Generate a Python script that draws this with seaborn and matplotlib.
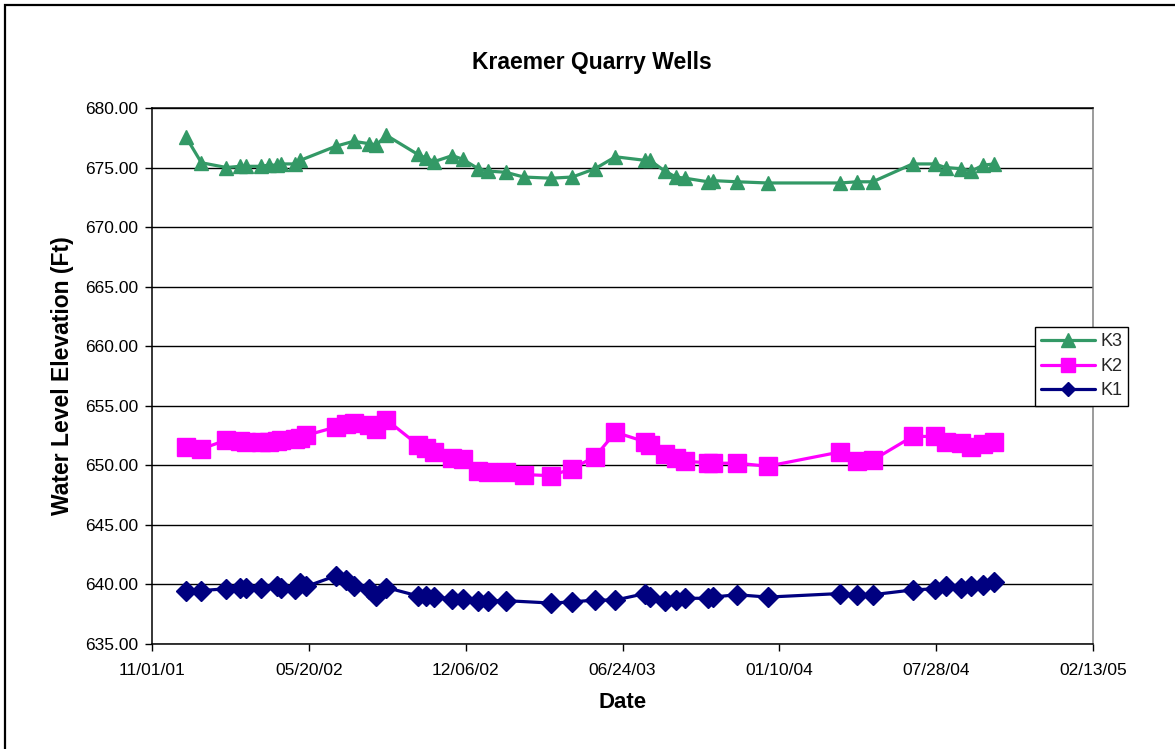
import matplotlib
matplotlib.use("Agg")
import matplotlib.pyplot as plt
import matplotlib.dates as mdates
from matplotlib.patches import Rectangle
from matplotlib.ticker import FuncFormatter
import seaborn as sns
import pandas as pd

# ---------------- data ----------------
dates = ["2001-12-14", "2002-01-03", "2002-02-04", "2002-02-21", "2002-03-01",
         "2002-03-20", "2002-03-30", "2002-04-09", "2002-04-15", "2002-05-02",
         "2002-05-09", "2002-05-17", "2002-06-24", "2002-07-07", "2002-07-16",
         "2002-08-05", "2002-08-14", "2002-08-27", "2002-10-06", "2002-10-16",
         "2002-10-27", "2002-11-19", "2002-12-02", "2002-12-22", "2003-01-03",
         "2003-01-26", "2003-02-18", "2003-03-25", "2003-04-21", "2003-05-20",
         "2003-06-15", "2003-07-23", "2003-07-29", "2003-08-17", "2003-08-31",
         "2003-09-12", "2003-10-11", "2003-10-17", "2003-11-17", "2003-12-26",
         "2004-03-28", "2004-04-18", "2004-05-08", "2004-06-28", "2004-07-26",
         "2004-08-09", "2004-08-29", "2004-09-11", "2004-09-26", "2004-10-10"]

k3 = [677.6, 675.4, 675.0, 675.1, 675.1, 675.1, 675.2, 675.2, 675.3, 675.3,
      675.6, None, 676.8, None, 677.2, 677.0, 676.9, 677.7, 676.1, 675.8,
      675.5, 676.0, 675.7, 674.9, 674.7, 674.6, 674.2, 674.1, 674.2, 674.9,
      675.9, 675.6, 675.6, 674.7, 674.2, 674.1, 673.8, 673.9, 673.8, 673.7,
      673.7, 673.8, 673.8, 675.3, 675.3, 675.0, 674.9, 674.7, 675.2, 675.3]

k2 = [651.5, 651.35, 652.1, 652.0, 651.9, 651.9, 651.9, 652.0, 652.1, 652.2,
      652.3, 652.5, 653.2, 653.45, 653.5, 653.4, 653.0, 653.8, 651.7, 651.4,
      651.1, 650.6, 650.5, 649.5, 649.4, 649.4, 649.2, 649.1, 649.7, 650.7,
      652.75, 651.95, 651.7, 650.9, 650.55, 650.3, 650.2, 650.15, 650.15, 649.9,
      651.1, 650.3, 650.4, 652.4, 652.4, 651.9, 651.85, 651.55, 651.75, 651.9]

k1 = [639.45, 639.45, 639.6, 639.7, 639.7, 639.7, None, 639.85, 639.7, 639.6,
      640.05, 639.8, 640.7, 640.3, 639.8, 639.6, 639.0, 639.7, 639.0, 639.0,
      638.9, 638.75, 638.75, 638.6, 638.6, 638.6, None, 638.4, 638.5, 638.65,
      638.65, 639.2, 638.9, 638.6, 638.65, 638.8, 638.8, 638.9, 639.1, 638.9,
      639.2, 639.1, 639.1, 639.5, 639.6, 639.85, 639.7, 639.85, 639.9, 640.15]

series_names = ["K3", "K2", "K1"]
x_tick_dates = ["2001-11-01", "2002-05-20", "2002-12-06", "2003-06-24",
                "2004-01-10", "2004-07-28", "2005-02-13"]
y_ticks = [635, 640, 645, 650, 655, 660, 665, 670, 675, 680]

title = "Kraemer Quarry Wells"
x_label = "Date"
y_label = "Water Level Elevation (Ft)"

# ---------------- styling ----------------
sns.set_theme(style="white")
plt.rcParams['font.family'] = ['Liberation Sans', 'DejaVu Sans']

W, H = 1175, 749
fig = plt.figure(figsize=(W / 100, H / 100), dpi=100)
fig.patch.set_facecolor("white")

ax_l, ax_r, ax_t, ax_b = 152, 1093, 108, 643.5
ax = fig.add_axes([ax_l / W, 1 - ax_b / H, (ax_r - ax_l) / W, (ax_b - ax_t) / H])
ax.set_facecolor("white")

df = pd.DataFrame({"Date": pd.to_datetime(dates), "K3": k3, "K2": k2, "K1": k1})
long = df.melt(id_vars="Date", var_name="Well", value_name="Elevation").dropna()
long["Elevation"] = long["Elevation"].astype(float)

styles = {
    "K3": dict(color="#339966", marker="^", markersize=10.5),
    "K2": dict(color="#FF00FF", marker="s", markersize=13.5),
    "K1": dict(color="#000080", marker="D", markersize=9.8),
}

for name in ["K1", "K2", "K3"]:
    sub = long[long["Well"] == name]
    st = styles[name]
    sns.lineplot(data=sub, x="Date", y="Elevation", ax=ax, label=name,
                 color=st["color"], marker=st["marker"],
                 markersize=st["markersize"], markeredgecolor=st["color"],
                 markeredgewidth=1, linewidth=2.3, estimator=None, sort=False,
                 zorder=3)

ax.set_xlim(pd.Timestamp(x_tick_dates[0]), pd.Timestamp(x_tick_dates[-1]))
ax.set_ylim(y_ticks[0], y_ticks[-1])
ax.set_xticks(pd.to_datetime(x_tick_dates))
ax.xaxis.set_major_formatter(mdates.DateFormatter("%m/%d/%y"))
ax.set_yticks(y_ticks)
ax.yaxis.set_major_formatter(FuncFormatter(lambda v, p: f"{v:.2f}"))

ax.yaxis.grid(True, color="black", linewidth=1)
ax.xaxis.grid(False)
ax.set_axisbelow(True)

for s in ["left", "bottom", "top"]:
    ax.spines[s].set_color("black")
    ax.spines[s].set_linewidth(1.1)
ax.spines["right"].set_color("#808080")
ax.spines["right"].set_linewidth(1.1)

ax.tick_params(axis="both", direction="out", length=5, width=1, color="black",
               labelsize=12.5, labelcolor="black")
ax.tick_params(axis="x", pad=9, bottom=True)
ax.tick_params(axis="y", pad=5, left=True)

ax.set_xlabel("")
ax.set_ylabel("")

fig.text(592 / W, 1 - 63 / H, title, ha="center", va="center",
         fontsize=16.5, fontweight="bold", color="black")
fig.text(622.5 / W, 1 - 702 / H, x_label, ha="center", va="center",
         fontsize=16, fontweight="bold", color="black")
fig.text(63 / W, 1 - 376 / H, y_label, ha="center", va="center", rotation=90,
         fontsize=16.5, fontweight="bold", color="black")

# legend (K3, K2, K1 order)
handles, labels = ax.get_legend_handles_labels()
hmap = dict(zip(labels, handles))
leg = ax.legend([hmap[n] for n in series_names], series_names,
                loc="upper left", bbox_to_anchor=(1035 / W, 1 - 327 / H),
                bbox_transform=fig.transFigure, frameon=True, fancybox=False,
                edgecolor="black", framealpha=1, fontsize=13,
                handlelength=3.0, borderpad=0.35, labelspacing=0.42,
                handletextpad=0.25, borderaxespad=0)
leg.get_frame().set_linewidth(1)
for h, ms in zip(leg.legend_handles, [9.5, 9.5, 6.8]):
    h.set_markersize(ms)

# outer chart border (left/top visible)
fig.add_artist(Rectangle((4.5 / W, -0.05), 1.1, 1 - 5 / H + 0.05,
                         transform=fig.transFigure, fill=False,
                         edgecolor="black", linewidth=1.6))

fig.savefig("out.png", dpi=100, facecolor="white")
